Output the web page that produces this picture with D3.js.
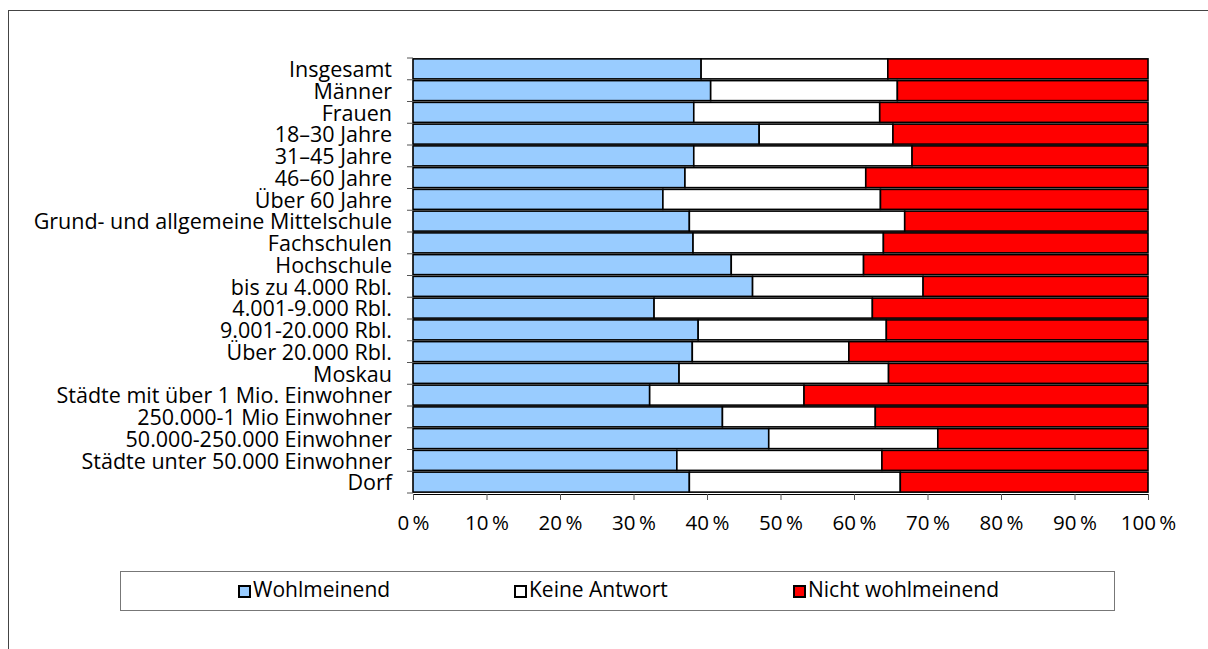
<!DOCTYPE html>
<html lang="de">
<head>
    <meta charset="UTF-8">
    <title>Einstellung</title>
    <style>
        body { margin: 0; background: #fff; }
        text { font-family: "Open Sans", "DejaVu Sans", sans-serif; fill: #000; }
    </style>
</head>
<body>
<div id="chart"></div>

<script src="https://cdnjs.cloudflare.com/ajax/libs/d3/7.8.5/d3.min.js"></script>

<script>
    // data, in percent
    const categories = [
        "Insgesamt", "Männer", "Frauen", "18–30 Jahre", "31–45 Jahre", "46–60 Jahre",
        "Über 60 Jahre", "Grund- und allgemeine Mittelschule", "Fachschulen", "Hochschule",
        "bis zu 4.000 Rbl.", "4.001-9.000 Rbl.", "9.001-20.000 Rbl.", "Über 20.000 Rbl.",
        "Moskau", "Städte mit über 1 Mio. Einwohner", "250.000-1 Mio Einwohner",
        "50.000-250.000 Einwohner", "Städte unter 50.000 Einwohner", "Dorf"
    ];
    const wohlmeinend = [39.2, 40.5, 38.2, 47.1, 38.2, 37.0, 34.0, 37.6, 38.1, 43.3,
                         46.2, 32.8, 38.8, 38.0, 36.2, 32.2, 42.1, 48.4, 35.9, 37.6];
    const keineAntwort = [25.4, 25.4, 25.3, 18.2, 29.7, 24.6, 29.6, 29.3, 25.9, 18.0,
                          23.2, 29.7, 25.6, 21.3, 28.5, 21.0, 20.8, 23.0, 27.9, 28.7];
    const nichtWohlmeinend = [35.4, 34.1, 36.5, 34.7, 32.1, 38.4, 36.4, 33.1, 36.0, 38.7,
                              30.6, 37.5, 35.6, 40.7, 35.3, 46.8, 37.1, 28.6, 36.2, 33.7];
    const seriesNames = ["Wohlmeinend", "Keine Antwort", "Nicht wohlmeinend"];
    const seriesColors = ["#99ccff", "#ffffff", "#ff0000"];
    const xTicks = [0, 10, 20, 30, 40, 50, 60, 70, 80, 90, 100];

    const width = 1208, height = 649;

    const svg = d3.select("#chart").append("svg")
        .attr("width", width)
        .attr("height", height);

    // outer frame (runs off the right and bottom edge)
    svg.append("rect")
        .attr("x", 8.5).attr("y", 10.5)
        .attr("width", 1300).attr("height", 700)
        .attr("fill", "none")
        .attr("stroke", "#444");

    const x = d3.scaleLinear().domain([0, 100]).range([413, 1148]);
    const y = d3.scaleBand().domain(categories).range([58, 493])
        .paddingInner(0.08).paddingOuter(0.04);
    const yEdge = d3.scaleLinear().domain([0, categories.length]).range([58, 493]);

    // stack the three series
    const rows = categories.map((c, i) => ({
        cat: c, w: wohlmeinend[i], k: keineAntwort[i], n: nichtWohlmeinend[i]
    }));
    const stack = d3.stack().keys(["w", "k", "n"]);
    const layers = stack(rows);

    svg.append("g").selectAll("g")
        .data(layers)
        .join("g")
        .attr("fill", (d, i) => seriesColors[i])
        .selectAll("rect")
        .data(d => d)
        .join("rect")
        .attr("x", d => x(d[0]))
        .attr("y", d => y(d.data.cat))
        .attr("width", d => x(d[1]) - x(d[0]))
        .attr("height", y.bandwidth())
        .attr("stroke", "#000")
        .attr("stroke-width", 1.6);

    // left axis: ticks between categories, labels centred on rows
    const left = svg.append("g");
    left.selectAll("line.tick")
        .data(d3.range(categories.length + 1))
        .join("line")
        .attr("x1", 407).attr("x2", 413)
        .attr("y1", d => yEdge(d)).attr("y2", d => yEdge(d))
        .attr("stroke", "#555");
    left.selectAll("text")
        .data(categories)
        .join("text")
        .attr("x", 392)
        .attr("y", d => y(d) + y.bandwidth() / 2)
        .attr("dy", "0.38em")
        .attr("text-anchor", "end")
        .attr("font-size", 21.5)
        .text(d => d);

    // bottom axis
    const xAxis = d3.axisBottom(x)
        .tickValues(xTicks)
        .tickSize(6)
        .tickPadding(15)
        .tickFormat(d => d + "\u2009%");
    const gx = svg.append("g")
        .attr("transform", "translate(0,494)")
        .call(xAxis);
    gx.select(".domain").attr("stroke", "#000");
    gx.selectAll(".tick line").attr("stroke", "#555");
    gx.selectAll(".tick text")
        .attr("font-size", 20.5)
        .attr("font-family", "Open Sans, sans-serif")
        .attr("fill", "#000");

    // legend
    const legend = svg.append("g");
    legend.append("rect")
        .attr("x", 120.5).attr("y", 571.5)
        .attr("width", 994).attr("height", 39)
        .attr("fill", "#fff")
        .attr("stroke", "#777");
    const legendX = [238, 514, 793];
    const item = legend.selectAll("g.item")
        .data(seriesNames)
        .join("g")
        .attr("transform", (d, i) => `translate(${legendX[i]},585)`);
    item.append("rect")
        .attr("x", 1).attr("y", 1)
        .attr("width", 11).attr("height", 11)
        .attr("fill", (d, i) => seriesColors[i])
        .attr("stroke", "#000")
        .attr("stroke-width", 2);
    item.append("text")
        .attr("x", 15)
        .attr("y", 12)
        .attr("font-size", 21)
        .text(d => d);
</script>
</body>
</html>
